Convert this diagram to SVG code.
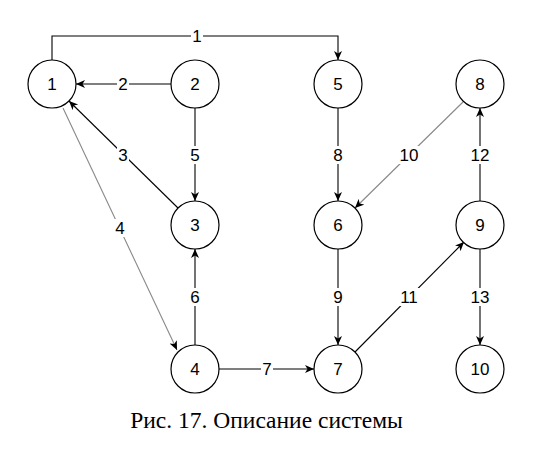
<svg xmlns="http://www.w3.org/2000/svg" width="544" height="456" viewBox="0 0 544 456">
<style>
.node circle{fill:#fff;stroke:#000;stroke-width:1.2}
.node text,.lbl text{font-family:"Liberation Sans",Arial,sans-serif;font-size:17px;text-anchor:middle;dominant-baseline:central;fill:#000}
.e{fill:none;stroke:#000;stroke-width:1.1}
.g{stroke:#888}
.lbl rect{fill:#fff}
.cap{font-family:"Liberation Serif","Times New Roman",serif;font-size:23.5px;text-anchor:middle;fill:#000}
</style>
<defs>
<marker id="a" markerUnits="userSpaceOnUse" markerWidth="10" markerHeight="9" refX="9" refY="4" orient="auto">
<path d="M0,0 L9,4 L0,8 L2.5,4 z" fill="#000"/>
</marker>
</defs>
<rect width="544" height="456" fill="#fff"/>
<g id="connectors">
<path class="e" d="M52,60 V36 H338 V60" marker-end="url(#a)"/>
<path class="e" d="M171,84 H76" marker-end="url(#a)"/>
<path class="e" d="M178,208 L69,101" marker-end="url(#a)"/>
<path class="e g" d="M63,108 L177,350" marker-end="url(#a)"/>
<path class="e" d="M195,108 V201" marker-end="url(#a)"/>
<path class="e" d="M195,345 V249" marker-end="url(#a)"/>
<path class="e" d="M219,369 H314" marker-end="url(#a)"/>
<path class="e" d="M338,108 V201" marker-end="url(#a)"/>
<path class="e" d="M338,249 V345" marker-end="url(#a)"/>
<path class="e g" d="M463,102 L355,208" marker-end="url(#a)"/>
<path class="e" d="M355,352 L464,242" marker-end="url(#a)"/>
<path class="e" d="M480,201 V108" marker-end="url(#a)"/>
<path class="e" d="M480,249 V345" marker-end="url(#a)"/>
<g class="lbl">
<rect x="191" y="27" width="12" height="18"/><text x="197" y="36">1</text>
<rect x="117" y="75" width="12" height="18"/><text x="123" y="84">2</text>
<rect x="117" y="146" width="12" height="18"/><text x="123" y="155">3</text>
<rect x="114" y="219" width="12" height="18"/><text x="120" y="228">4</text>
<rect x="189" y="146" width="12" height="18"/><text x="195" y="155">5</text>
<rect x="189" y="288" width="12" height="18"/><text x="195" y="297">6</text>
<rect x="261" y="360" width="12" height="18"/><text x="267" y="369">7</text>
<rect x="332" y="146" width="12" height="18"/><text x="338" y="155">8</text>
<rect x="332" y="288" width="12" height="18"/><text x="338" y="297">9</text>
<rect x="398" y="146" width="22" height="18"/><text x="409" y="155">10</text>
<rect x="398" y="288" width="22" height="18"/><text x="409" y="297">11</text>
<rect x="469" y="146" width="22" height="18"/><text x="480" y="155">12</text>
<rect x="469" y="288" width="22" height="18"/><text x="480" y="297">13</text>
</g>
</g>
<g id="n1" class="node"><circle cx="52" cy="84" r="24"/><text x="52" y="84">1</text></g>
<g id="n2" class="node"><circle cx="195" cy="84" r="24"/><text x="195" y="84">2</text></g>
<g id="n5" class="node"><circle cx="338" cy="84" r="24"/><text x="338" y="84">5</text></g>
<g id="n8" class="node"><circle cx="480" cy="84" r="24"/><text x="480" y="84">8</text></g>
<g id="n3" class="node"><circle cx="195" cy="225" r="24"/><text x="195" y="225">3</text></g>
<g id="n6" class="node"><circle cx="338" cy="225" r="24"/><text x="338" y="225">6</text></g>
<g id="n9" class="node"><circle cx="480" cy="225" r="24"/><text x="480" y="225">9</text></g>
<g id="n4" class="node"><circle cx="195" cy="369" r="24"/><text x="195" y="369">4</text></g>
<g id="n7" class="node"><circle cx="338" cy="369" r="24"/><text x="338" y="369">7</text></g>
<g id="n10" class="node"><circle cx="480" cy="369" r="24"/><text x="480" y="369">10</text></g>
<text class="cap" x="266.5" y="428">Рис. 17. Описание системы</text>
</svg>
